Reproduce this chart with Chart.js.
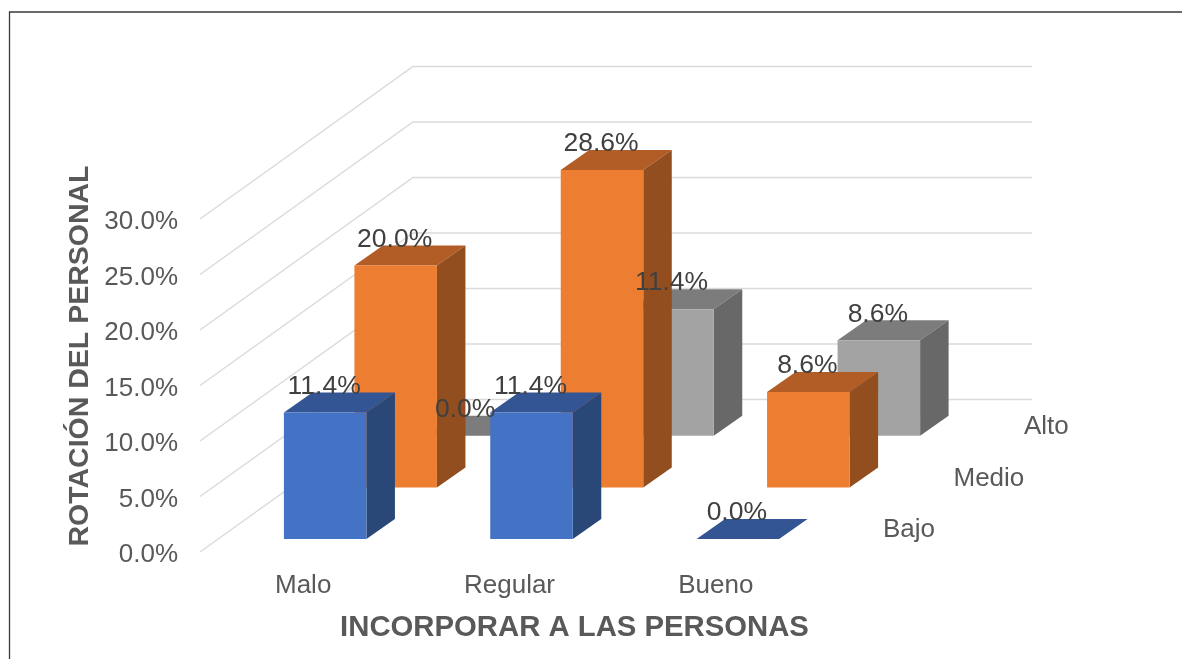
<!DOCTYPE html>
<html>
<head>
<meta charset="utf-8">
<style>html,body{margin:0;padding:0;background:#fff}canvas{display:block}</style>
<script src="https://cdn.jsdelivr.net/npm/chart.js@4"></script>
</head>
<body>
<canvas id="c" width="1182" height="659"></canvas>
<script>
const categories = ['Malo', 'Regular', 'Bueno'];
const bajo = [11.4, 11.4, 0.0];
const medio = [20.0, 28.6, 8.6];
const alto = [0.0, 11.4, 8.6];

const FONT = '"Liberation Sans", Arial, sans-serif';
const TEXT = '#595959', LABEL = '#404040';
const wall = {dx: 213, dy: -152.5};
const barDepth = {dx: 28.5, dy: -20};

const rows = {
  Bajo:  {shift: {dx: 22, dy: -13},      front: '#4472C4', top: '#335593', side: '#294878'},
  Medio: {shift: {dx: 92.5, dy: -64.6},  front: '#ED7D31', top: '#B25D25', side: '#924E1E'},
  Alto:  {shift: {dx: 163, dy: -116.3},  front: '#A3A3A3', top: '#7C7C7C', side: '#686868'}
};

function poly(ctx, pts, fill) {
  ctx.beginPath();
  pts.forEach((p, i) => i ? ctx.lineTo(p[0], p[1]) : ctx.moveTo(p[0], p[1]));
  ctx.closePath();
  ctx.fillStyle = fill;
  ctx.fill();
}

const pct = v => v.toFixed(1) + '%';

const scene3d = {
  id: 'scene3d',
  beforeDraw(chart) {
    const ctx = chart.ctx;
    ctx.save();
    ctx.fillStyle = '#fff';
    ctx.fillRect(0, 0, chart.width, chart.height);
    ctx.beginPath();
    ctx.moveTo(9.5, chart.height);
    ctx.lineTo(9.5, 12);
    ctx.lineTo(chart.width, 12);
    ctx.strokeStyle = '#3a3a3a';
    ctx.lineWidth = 1.3;
    ctx.stroke();
    ctx.restore();

    for (const id of ['x', 'y']) {
      const s = chart.scales[id];
      if (s._shifted) continue;
      s._shifted = true;
      const original = s.drawTitle.bind(s);
      const off = s.options.title.shift;
      s.drawTitle = () => {
        ctx.save();
        ctx.translate(off.x, off.y);
        original();
        ctx.restore();
      };
    }
  },
  beforeDatasetsDraw(chart) {
    const {ctx, chartArea, scales} = chart;
    ctx.save();
    ctx.strokeStyle = '#DADADA';
    ctx.lineWidth = 1.4;
    scales.y.ticks.forEach(t => {
      const y = scales.y.getPixelForValue(t.value);
      ctx.beginPath();
      ctx.moveTo(chartArea.left, y);
      ctx.lineTo(chartArea.left + wall.dx, y + wall.dy);
      ctx.lineTo(chartArea.right + wall.dx, y + wall.dy);
      ctx.stroke();
    });
    ctx.restore();
  },
  beforeDatasetDraw(chart, args) {
    const {ctx} = chart;
    const row = rows[chart.data.datasets[args.index].label];
    ctx.save();
    ctx.translate(row.shift.dx, row.shift.dy);
    const d = barDepth;
    args.meta.data.forEach(b => {
      const l = b.x - b.width / 2, r = b.x + b.width / 2;
      poly(ctx, [[l, b.y], [r, b.y], [r + d.dx, b.y + d.dy], [l + d.dx, b.y + d.dy]], row.top);
      if (b.base - b.y > 0.5) {
        poly(ctx, [[r, b.y], [r + d.dx, b.y + d.dy], [r + d.dx, b.base + d.dy], [r, b.base]], row.side);
      }
    });
  },
  afterDatasetDraw(chart) {
    chart.ctx.restore();
  },
  afterDatasetsDraw(chart) {
    const {ctx, chartArea, scales} = chart;
    ctx.save();
    ctx.textAlign = 'center';
    ctx.textBaseline = 'middle';
    ctx.font = '26.5px ' + FONT;
    ctx.fillStyle = LABEL;
    chart.data.datasets.forEach((ds, i) => {
      const s = rows[ds.label].shift;
      chart.getDatasetMeta(i).data.forEach((b, j) => {
        ctx.fillText(pct(ds.data[j]), b.x + s.dx - 1, b.y + s.dy - 26);
      });
    });
    ctx.textAlign = 'left';
    ctx.fillStyle = TEXT;
    ctx.font = '26px ' + FONT;
    chart.data.datasets.forEach(ds => {
      const s = rows[ds.label].shift;
      ctx.fillText(ds.label, chartArea.right + s.dx + 42, scales.y.getPixelForValue(0) + s.dy - 9);
    });
    ctx.restore();
  }
};

const mk = (label, data) => ({
  label, data,
  backgroundColor: rows[label].front,
  borderWidth: 0,
  clip: false,
  barPercentage: 0.4,
  categoryPercentage: 1,
  grouped: false
});

new Chart(document.getElementById('c'), {
  type: 'bar',
  plugins: [scene3d],
  data: {
    labels: categories,
    datasets: [mk('Bajo', bajo), mk('Medio', medio), mk('Alto', alto)]
  },
  options: {
    responsive: false,
    animation: false,
    layout: {padding: {left: 0, right: 363, top: 219, bottom: 0}},
    plugins: {legend: {display: false}, tooltip: {enabled: false}},
    scales: {
      x: {
        afterFit(s) { s.height = 107; },
        grid: {display: false, drawTicks: false},
        border: {display: false},
        ticks: {color: TEXT, font: {size: 26, family: FONT}, padding: 18, maxRotation: 0, autoSkip: false},
        title: {display: true, text: 'INCORPORAR A LAS PERSONAS', color: TEXT,
                font: {size: 29.3, weight: 'bold', family: FONT},
                padding: {top: 0, bottom: 14}, shift: {x: 65, y: 0}}
      },
      y: {
        min: 0, max: 30,
        afterFit(s) { s.width = 200; },
        grid: {display: false, drawTicks: false},
        border: {display: false},
        ticks: {stepSize: 5, color: TEXT, font: {size: 26, family: FONT}, padding: 22, labelOffset: 3, callback: v => pct(v)},
        title: {display: true, text: 'ROTACIÓN DEL PERSONAL', color: TEXT,
                font: {size: 28.5, weight: 'bold', family: FONT},
                padding: {top: 63, bottom: 0}, shift: {x: 0, y: -29.5}}
      }
    }
  }
});
</script>
</body>
</html>
